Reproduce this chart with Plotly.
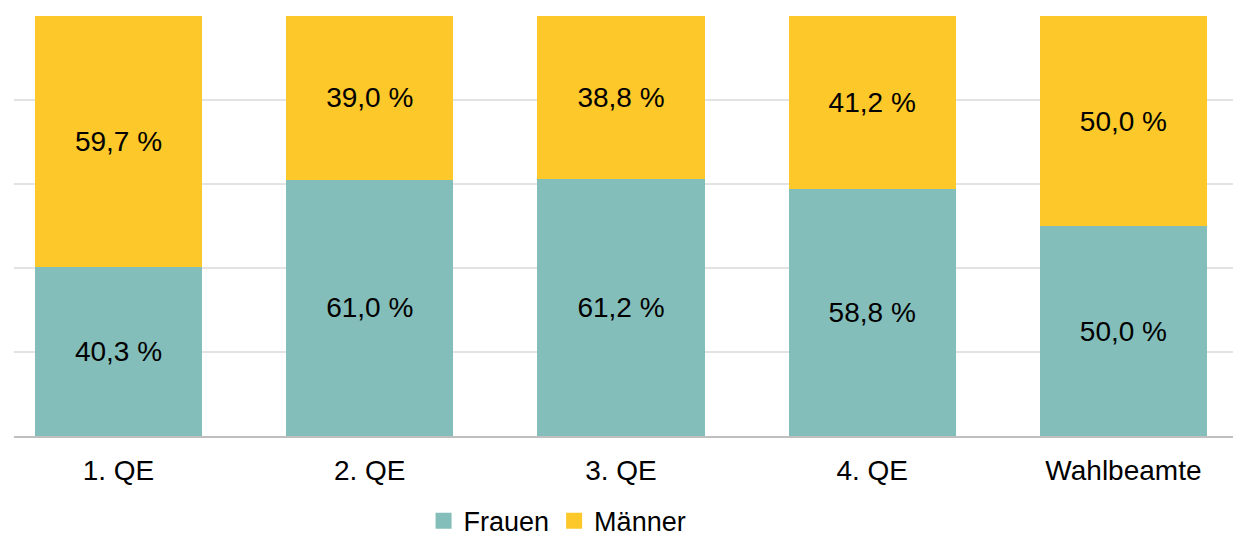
import plotly.graph_objects as go

categories = ["1. QE", "2. QE", "3. QE", "4. QE", "Wahlbeamte"]
frauen = [40.3, 61.0, 61.2, 58.8, 50.0]
maenner = [59.7, 39.0, 38.8, 41.2, 50.0]

TEAL = "#84BEBA"
YELLOW = "#FDC829"
FONT = "Liberation Sans, Arial, sans-serif"


def fmt(v):
    return f"{v:.1f} %".replace(".", ",")


fig = go.Figure()
for name, vals, col in [("Frauen", frauen, TEAL), ("Männer", maenner, YELLOW)]:
    fig.add_trace(go.Bar(
        x=list(range(len(categories))), y=vals, name=name,
        marker=dict(color=col, line=dict(width=0)),
        text=[fmt(v) for v in vals], textposition="inside",
        insidetextanchor="middle", constraintext="none",
        textfont=dict(color="black", size=28, family=FONT),
        width=0.665, hoverinfo="skip", showlegend=False,
    ))
    # legend-only entry with a larger square swatch
    fig.add_trace(go.Scatter(
        x=[None], y=[None], mode="markers", name=name,
        marker=dict(symbol="square", size=18, color=col),
    ))

fig.update_layout(
    width=1233, height=544,
    barmode="stack",
    plot_bgcolor="white", paper_bgcolor="white",
    margin=dict(l=6, r=0, t=8, b=116),
    font=dict(family=FONT, size=28, color="black"),
    legend=dict(orientation="h", x=0.443, xanchor="center", y=-0.203, yanchor="middle",
                font=dict(size=27), traceorder="normal", itemsizing="trace",
                itemwidth=30, tracegroupgap=0),
)
fig.update_xaxes(
    tickmode="array", tickvals=list(range(len(categories))), ticktext=categories,
    range=[-0.416, 4.468], showgrid=False, showline=True, linecolor="#BFBFBF",
    linewidth=2, ticks="", zeroline=False, ticklabelstandoff=8,
)
fig.update_yaxes(
    range=[0, 100], dtick=20, showgrid=True, gridcolor="#E3E3E3", gridwidth=2,
    showticklabels=False, zeroline=False,
)

fig.write_html("out.html")
